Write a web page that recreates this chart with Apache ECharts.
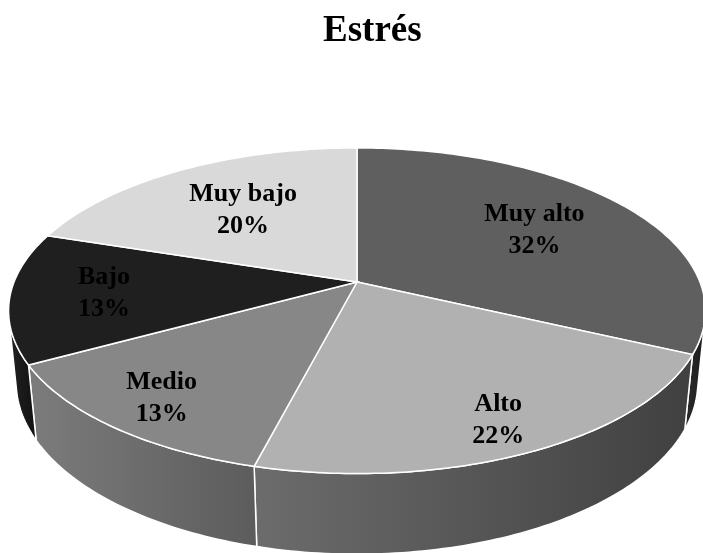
<!DOCTYPE html>
<html>
<head>
<meta charset="utf-8">
<script src="https://cdn.jsdelivr.net/npm/echarts@6/dist/echarts.min.js"></script>
<style>
html,body{margin:0;padding:0;background:#fff;}
#main{width:703px;height:553px;}
</style>
</head>
<body>
<div id="main"></div>
<script>
// ---- data ----
const categories = ['Muy alto', 'Alto', 'Medio', 'Bajo', 'Muy bajo'];
const values = [32, 22, 13, 13, 20];
const titleText = 'Estrés';

// ---- styles ----
const topColors = ['#5f5f5f', '#b1b1b1', '#878787', '#1f1f1f', '#d9d9d9'];
const sideColors = [
  ['#2c2c2c', '#1c1c1c'],
  ['#6c6c6c', '#404040'],
  ['#7c7c7c', '#5c5c5c'],
  ['#222222', '#111111'],
  ['#bbbbbb', '#999999']
];

// ---- 3D projection parameters ----
const CX = 357, CY = 282, S = 1725;
const L = 5.03, SA = 0.46, CA = 0.888, T = 0.2374;
const D = L * CA;
const zVis = -1 / D; // side visible where Z < zVis

function proj(X, Z, h) {
  const depth = L + h * SA + Z * CA;
  const sx = X / depth;
  const up = (-h * CA + Z * SA) / depth;
  return [CX + S * sx, CY - S * up];
}
function rim(thDeg, r, h) {
  const th = thDeg * Math.PI / 180;
  return proj(r * Math.sin(th), r * Math.cos(th), h);
}

const total = values.reduce((a, b) => a + b, 0);
const starts = [];
{
  let acc = 0;
  values.forEach(v => { starts.push(acc / total * 360); acc += v; });
}
const visA = Math.acos(zVis) * 180 / Math.PI;   // ~103
const visB = 360 - visA;                         // ~257

function renderItem(params, api) {
  const i = params.dataIndex;
  const v = api.value(0);
  const a0 = starts[i];
  const a1 = a0 + v / total * 360;
  const children = [];

  // side face (visible part only)
  const s0 = Math.max(a0, visA), s1 = Math.min(a1, visB);
  if (s1 > s0) {
    const pts = [];
    const n = Math.max(2, Math.ceil(s1 - s0));
    for (let k = 0; k <= n; k++) pts.push(rim(s0 + (s1 - s0) * k / n, 1, 0));
    for (let k = n; k >= 0; k--) pts.push(rim(s0 + (s1 - s0) * k / n, 1, T));
    children.push({
      type: 'polygon',
      z2: 1,
      shape: { points: pts },
      style: {
        fill: {
          type: 'linear', x: 0, y: 0, x2: 1, y2: 0,
          colorStops: [{ offset: 0, color: sideColors[i][0] }, { offset: 1, color: sideColors[i][1] }]
        },
        stroke: '#ffffff', lineWidth: 1.5
      }
    });
  }

  // top face
  const tp = [proj(0, 0, 0)];
  const n2 = Math.max(2, Math.ceil(a1 - a0));
  for (let k = 0; k <= n2; k++) tp.push(rim(a0 + (a1 - a0) * k / n2, 1, 0));
  children.push({
    type: 'polygon',
    z2: 5,
    shape: { points: tp },
    style: { fill: topColors[i], stroke: '#ffffff', lineWidth: 1.5 }
  });

  // label
  const mid = (a0 + a1) / 2;
  const r = 0.72 - 0.13 * Math.cos(mid * Math.PI / 180);
  const lp = rim(mid, r, 0);
  children.push({
    type: 'text',
    z2: 10,
    style: {
      x: lp[0], y: lp[1],
      text: categories[i] + '\n' + Math.round(v / total * 100) + '%',
      fill: '#000',
      font: 'bold 26px "Liberation Serif", "Times New Roman", serif',
      align: 'center', verticalAlign: 'middle', lineHeight: 32
    }
  });
  return { type: 'group', children: children };
}

const chart = echarts.init(document.getElementById('main'), null, { renderer: 'canvas' });
chart.setOption({
  backgroundColor: '#ffffff',
  animation: false,
  title: {
    text: titleText,
    left: 318, top: 8,
    textStyle: { fontFamily: '"Liberation Serif", "Times New Roman", serif', fontSize: 37, fontWeight: 'bold', color: '#000' }
  },
  series: [{
    type: 'custom',
    coordinateSystem: 'none',
    renderItem: renderItem,
    data: values.map((v, i) => ({ name: categories[i], value: [v] }))
  }]
});
</script>
</body>
</html>
